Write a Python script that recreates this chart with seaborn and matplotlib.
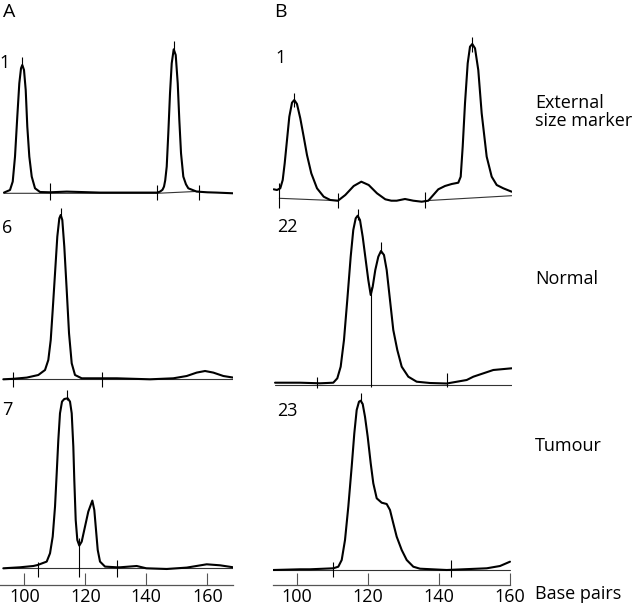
import matplotlib
matplotlib.use("Agg")
import matplotlib.pyplot as plt
import seaborn as sns

NAN = float("nan")

# Traces: x in base pairs, y in signal height above baseline.
# A1: external size marker, lane 1
A1_BP = [93.34, 95.31, 96.20, 96.95, 97.70, 98.36, 98.92, 99.34, 99.90, 100.46,
         100.98, 101.64, 102.43, 103.51, 105.15, 108.43, 113.90, 124.82, 140.13,
         143.61, 144.49, 145.30, 145.80, 146.20, 146.69, 147.21, 147.77, 148.33,
         148.98, 149.64, 150.30, 150.82, 151.38, 152.13, 153.00, 153.77, 156.52,
         160.0, 163.08, 168.52]
A1_H = [0.7, 3.3, 11.7, 36.7, 76.7, 110, 125, 128.3, 123.3, 103.3,
        66.7, 36.7, 16.7, 5, 1.3, 1.0, 1.7, 0.7, 0.7,
        0.7, 1.7, 3.5, 6.7, 13, 26.7, 60, 100, 130,
        144, 138.3, 110, 73.3, 40, 16.7, 9, 5, 1.7,
        1.0, 0.7, 0]
A1_MARK_BP = [108.43, 143.61, 157.38, 99.34, 148.98]
A1_MARK_LO = [-6.7, -6.7, -6.7, 126.7, 141.7]
A1_MARK_HI = [10, 8.3, 8.3, 136.7, 152.7]
A1_BASE_BP = [93.34, 143.61, 157.38]
A1_BASE_H = [0, 0, 2]

# A2: normal, lane 6
A2_BP = [93.11, 96.39, 100.79, 104.59, 106.79, 107.87, 108.66, 109.31, 110.07,
         110.82, 111.48, 111.93, 112.46, 113.11, 113.90, 114.66, 115.54, 116.62,
         118.82, 125.38, 130.30, 141.21, 148.85, 153.25, 156.52, 159.25, 161.97,
         165.25, 168.52]
A2_H = [0, 0.5, 1.7, 4.3, 9.3, 19.3, 39.3, 69.3, 106,
        142.7, 161, 164.3, 159.3, 132.7, 89.3, 46, 16, 4.3,
        1, 1, 1, 0, 1, 3.3, 6.7, 8.3, 6.7,
        3.3, 1.7]
A2_MARK_BP = [96.39, 125.38, 111.93]
A2_MARK_LO = [-7.3, -7.3, 161]
A2_MARK_HI = [7.7, 7.7, 171]
A2_BASE_BP = [93.11, 168.52]
A2_BASE_H = [0, 0]

# A3: tumour, lane 7
A3_BP = [93.11, 98.59, 102.95, 104.39, 107.34, 108.43, 109.31, 110.07, 110.62,
         111.15, 111.70, 112.36, 113.11, 114.23, 114.98, 115.54, 116.07, 116.39,
         116.85, 117.38, 118.03, 118.82, 119.90, 120.98, 122.30, 122.95, 123.51,
         124.07, 124.82, 126.46, 130.30, 131.38, 136.85, 140.0, 146.69, 153.25,
         159.80, 164.16, 168.52]
A3_H = [0, 1, 2.3, 3.3, 6.7, 15, 31.7, 61.7, 95,
        128.3, 155, 166.7, 169.3, 170, 166.7, 155, 121.7, 88.3,
        48.3, 28.3, 22.7, 26.7, 41.7, 56.7, 67.7, 58.3, 38.3,
        18.3, 6.7, 1.7, 1, 1, 2.3, 0, -0.7, 0.7,
        4, 3, 1]
A3_MARK_BP = [104.39, 130.30, 113.90, 118.03]
A3_MARK_LO = [-8.3, -8.3, 168.3, -8.3]
A3_MARK_HI = [6.7, 8.3, 178.3, 30]
A3_BASE_BP = [93.11, 168.52]
A3_BASE_H = [0, 0]

# B1: external size marker, lane 1
B1_BP = [93.52, 94.45, 95.38, 96.06, 96.62, 97.27, 97.92, 98.68, 99.32, 100.08,
         101.01, 101.97, 102.90, 104.11, 105.72, 107.61, 109.46, 111.63, 113.69,
         116.06, 118.20, 120.28, 122.62, 124.96, 126.65, 128.17, 130.51, 132.85,
         135.21, 137.07, 138.48, 139.89, 141.77, 143.66, 145.52, 146.20, 146.76,
         147.41, 148.17, 148.82, 149.46, 150.23, 151.15, 152.11, 153.52, 154.93,
         156.34, 158.20, 160.56]
B1_H = [11.7, 11, 12.7, 21, 37.7, 61, 84.3, 98.3, 101, 97,
        82.7, 64.3, 46, 27.7, 12.7, 4.3, 1, 0.3, 6,
        15, 19.3, 16, 7.7, 1.7, 0.3, 0.3, 2, 0.3,
        -0.7, 0.3, 6, 11.7, 15, 17, 18.3, 24.3, 54.3,
        97.7, 137.7, 154.3, 157, 152.7, 131, 87.7, 44.3, 24.3,
        16, 12.7, 9.3]
B1_MARK_BP = [95.10, 111.63, 136.14, 99.32, 149.46]
B1_MARK_LO = [-7, -7.3, -7.3, 94, 149]
B1_MARK_HI = [18, 7.7, 9.3, 108, 164]
B1_BASE_BP = [95.10, 111.63, NAN, 136.14, 160.56]
B1_BASE_H = [2.7, 0.3, NAN, 0.3, 5.3]

# B2: normal, lane 22
B2_BP = [93.9, 100.93, 106.56, 110.31, 111.44, 112.39, 113.32, 114.25, 115.21,
         115.94, 116.62, 117.18, 117.83, 118.59, 119.44, 120.17, 120.85, 121.41,
         122.14, 122.99, 123.75, 124.59, 125.35, 126.28, 127.21, 128.34, 129.58,
         131.44, 133.80, 137.55, 142.25, 147.89, 149.75, 155.38, 160.56]
B2_H = [2.3, 2.3, 1.7, 2.3, 6.7, 18.3, 45, 85, 128.3,
        155, 166.7, 169.3, 165, 148.3, 125, 105, 90, 98.3,
        115, 128.3, 134, 130, 115, 85, 55, 35, 18.3,
        8.3, 3.3, 2, 1.5, 5, 8.3, 15, 16.7]
B2_MARK_BP = [105.63, 142.25, 117.18, 123.75, 120.85]
B2_MARK_LO = [-3.3, -1.7, 165, 131.7, -2]
B2_MARK_HI = [8.3, 11.7, 175.7, 142.7, 97.7]
B2_BASE_BP = [93.9, 160.56]
B2_BASE_H = [0, 0]

# B3: tumour, lane 23
B3_BP = [93.41, 100.93, 103.75, 110.31, 111.72, 112.68, 113.61, 114.54, 115.49,
         116.23, 116.90, 117.55, 118.03, 118.59, 119.24, 120.00, 120.85, 121.58,
         122.54, 123.94, 125.35, 126.28, 127.21, 128.17, 129.58, 130.99, 132.85,
         134.73, 142.25, 153.52, 157.27, 160.08]
B3_H = [0, 0.7, 0.7, 1.7, 3.3, 10, 30, 63.3, 103.3,
        136.7, 160, 168.3, 169.3, 166, 153.3, 133.3, 106.7, 86.7,
        71.7, 67.3, 66, 60, 46.7, 33.3, 20, 10, 3.3,
        1.3, 0, 1.7, 4, 8.3]
B3_MARK_BP = [110.31, 143.38, 118.03]
B3_MARK_LO = [-6.7, -6.7, 166.7]
B3_MARK_HI = [8.3, 10, 177.3]
B3_BASE_BP = [93.41, 160.08]
B3_BASE_H = [0, 0]

X_TICKS = [100, 120, 140, 160]
COLUMN_LABELS = ["A", "B"]
LANE_LABELS = {"A": ["1", "6", "7"], "B": ["1", "22", "23"]}
ROW_LABELS = ["External\nsize marker", "Normal", "Tumour", "Base pairs"]

# Layout in pixels of the 640x607 output
W, H = 640, 607
# left px, right px, xmin bp, xmax bp, axis line end bp
COLS = {"A": (0.0, 233.3, 92.03, 168.52, 168.52),
        "B": (273.3, 512.0, 93.41, 160.65, 160.0)}
ROWS = [(25, 212), (200, 395), (385, 585)]
BASELINE = {"A": [193.3, 379.3, 568.3], "B": [201.0, 385.0, 570.0]}

PANELS = {
    ("A", 0): (A1_BP, A1_H, A1_MARK_BP, A1_MARK_LO, A1_MARK_HI, A1_BASE_BP, A1_BASE_H),
    ("A", 1): (A2_BP, A2_H, A2_MARK_BP, A2_MARK_LO, A2_MARK_HI, A2_BASE_BP, A2_BASE_H),
    ("A", 2): (A3_BP, A3_H, A3_MARK_BP, A3_MARK_LO, A3_MARK_HI, A3_BASE_BP, A3_BASE_H),
    ("B", 0): (B1_BP, B1_H, B1_MARK_BP, B1_MARK_LO, B1_MARK_HI, B1_BASE_BP, B1_BASE_H),
    ("B", 1): (B2_BP, B2_H, B2_MARK_BP, B2_MARK_LO, B2_MARK_HI, B2_BASE_BP, B2_BASE_H),
    ("B", 2): (B3_BP, B3_H, B3_MARK_BP, B3_MARK_LO, B3_MARK_HI, B3_BASE_BP, B3_BASE_H),
}

sns.set_theme(style="white")
plt.rcParams["font.family"] = ["Open Sans", "DejaVu Sans"]
FS = 13

fig = plt.figure(figsize=(W / 100, H / 100), dpi=100)
fig.patch.set_facecolor("white")


def px_text(x, y, s, size=FS, **kw):
    fig.text(x / W, 1 - y / H, s, fontsize=size, color="black", **kw)


for (col, row), (bp, h, mbp, mlo, mhi, bbp, bh) in PANELS.items():
    left, right, x0, x1, xend = COLS[col]
    top, bot = ROWS[row]
    base = BASELINE[col][row]
    ax = fig.add_axes([left / W, 1 - bot / H, (right - left) / W, (bot - top) / H])
    ax.patch.set_alpha(0)
    ax.set_xlim(x0, x1)
    ax.set_ylim(base - bot, base - top)
    for s in ax.spines.values():
        s.set_visible(False)
    ax.set_yticks([])

    ax.plot(bbp, bh, color="#333333", lw=0.8)
    ax.vlines(mbp, mlo, mhi, color="black", lw=0.8)
    sns.lineplot(x=bp, y=h, ax=ax, color="black", lw=1.5, sort=False,
                 estimator=None)
    ax.set_xlabel("")
    ax.set_ylabel("")

    if row == 2:
        ax.spines["bottom"].set_visible(True)
        ax.spines["bottom"].set_bounds(x0, xend)
        ax.spines["bottom"].set_color("#555555")
        ax.spines["bottom"].set_linewidth(0.9)
        ax.set_xticks(X_TICKS)
        ax.tick_params(axis="x", bottom=True, direction="in", length=8.6,
                       width=0.8, color="#555555", pad=2.5, labelsize=FS,
                       labelcolor="black")
    else:
        ax.set_xticks([])

# column and lane labels
px_text(9, 12, COLUMN_LABELS[0], size=14, ha="center", va="center")
px_text(280, 12, COLUMN_LABELS[1], size=14, ha="center", va="center")
for (x, y), s in zip([(5, 63), (7, 228), (7, 410)], LANE_LABELS["A"]):
    px_text(x, y, s, ha="center", va="center")
for (x, y), s in zip([(281, 58), (287, 227), (287, 411)], LANE_LABELS["B"]):
    px_text(x, y, s, ha="center", va="center")

# row labels on the right
for y, s in zip([112, 279, 446, 594], ROW_LABELS):
    px_text(535, y, s, ha="left", va="center", linespacing=1.05)

fig.savefig("out.png", dpi=100, facecolor="white")
